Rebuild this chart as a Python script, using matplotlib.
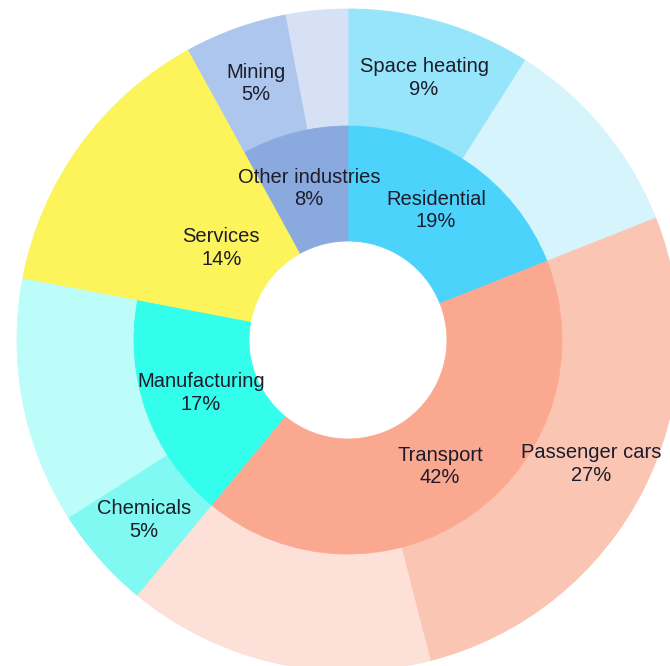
import numpy as np
import matplotlib
matplotlib.use("Agg")
import matplotlib.pyplot as plt

plt.rcParams['font.family'] = ['Liberation Sans', 'DejaVu Sans']

# Sectors (inner ring), clockwise from 12 o'clock
sectors = ["Residential", "Transport", "Manufacturing", "Services", "Other industries"]
sector_share = [19, 42, 17, 14, 8]
sector_colors = ["#4cd3fb", "#fba891", "#33fdeb", "#fdf35b", "#8aaadf"]

# Sub-uses (outer ring); empty names are the unlabelled remainder of a sector
subs = ["Space heating", "", "Passenger cars", "", "Chemicals", "", "", "Mining", ""]
sub_share = [9, 10, 27, 15, 5, 12, 14, 5, 3]
sub_colors = ["#97e5fb", "#d6f4fc", "#fbc5b3", "#fde0d7", "#7ff9f1", "#bcfcf9",
              "#fdf35b", "#adc6ee", "#d6e1f5"]

W, H, DPI = 670, 666, 100
fig = plt.figure(figsize=(W / DPI, H / DPI), dpi=DPI)
fig.patch.set_facecolor("white")

cx, cy, R = 348, 340, 331  # centre and outer radius in pixels
ax = fig.add_axes([(cx - R) / W, (H - cy - R) / H, 2 * R / W, 2 * R / H])

r_outer = 1.0
r_mid = 214 / R
r_hole = 99 / R

def ring(values, colors, radius, width):
    wedges, _ = ax.pie(values, colors=colors, radius=radius, startangle=90,
                       counterclock=False,
                       wedgeprops=dict(width=width, linewidth=0.6))
    for w, c in zip(wedges, colors):
        w.set_edgecolor(c)
    return wedges

ring(sub_share, sub_colors, r_outer, r_outer - r_mid)
ring(sector_share, sector_colors, r_mid, r_mid - r_hole)

def label_ring(names, values, rad):
    total = sum(values)
    cum = 0
    for name, v in zip(names, values):
        mid = cum + v / 2
        cum += v
        if not name:
            continue
        ang = np.deg2rad(90 - 360 * mid / total)
        ax.text(rad * np.cos(ang), rad * np.sin(ang), f"{name}\n{v}%",
                ha="center", va="center", fontsize=14.5, color="#1c1c2a",
                linespacing=1.25)

label_ring(sectors, sector_share, (r_mid + r_hole) / 2)
label_ring(subs, sub_share, (r_outer + r_mid) / 2)

ax.set_xlim(-1, 1)
ax.set_ylim(-1, 1)
ax.set_aspect("equal")
ax.axis("off")

fig.savefig("out.png", dpi=DPI, facecolor="white")
